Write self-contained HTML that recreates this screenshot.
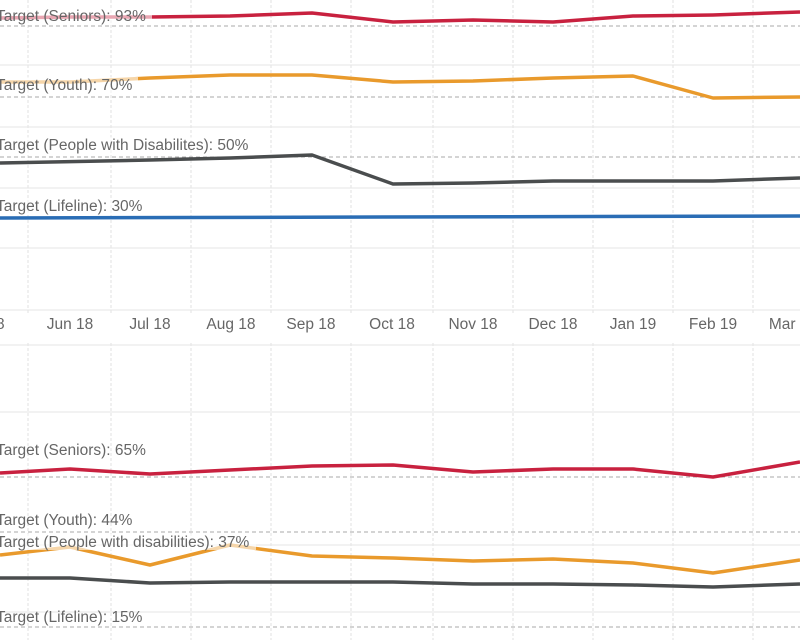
<!DOCTYPE html>
<html><head><meta charset="utf-8"><style>
body{margin:0;width:800px;height:640px;overflow:hidden;background:#fff}
svg{display:block}
text{font-family:"Liberation Sans",sans-serif;font-size:15.5px;fill:#666}
</style></head><body>
<svg width="800" height="640" viewBox="0 0 800 640">
<defs><linearGradient id="g" x1="0" x2="1"><stop offset="0" stop-color="#2a6db5"/><stop offset="1" stop-color="#2a6db5" stop-opacity="0"/></linearGradient></defs>
<g stroke="#e0e0e0" stroke-width="1" stroke-dasharray="3,2">
<line x1="28" y1="0" x2="28" y2="314"/><line x1="111" y1="0" x2="111" y2="314"/><line x1="191" y1="0" x2="191" y2="314"/><line x1="271" y1="0" x2="271" y2="314"/><line x1="351" y1="0" x2="351" y2="314"/><line x1="433" y1="0" x2="433" y2="314"/><line x1="513" y1="0" x2="513" y2="314"/><line x1="593" y1="0" x2="593" y2="314"/><line x1="673" y1="0" x2="673" y2="314"/><line x1="753" y1="0" x2="753" y2="314"/>
<line x1="28" y1="343" x2="28" y2="640"/><line x1="111" y1="343" x2="111" y2="640"/><line x1="191" y1="343" x2="191" y2="640"/><line x1="271" y1="343" x2="271" y2="640"/><line x1="351" y1="343" x2="351" y2="640"/><line x1="433" y1="343" x2="433" y2="640"/><line x1="513" y1="343" x2="513" y2="640"/><line x1="593" y1="343" x2="593" y2="640"/><line x1="673" y1="343" x2="673" y2="640"/><line x1="753" y1="343" x2="753" y2="640"/>
</g>
<g stroke="#e6e6e6" stroke-width="1">
<line x1="0" y1="65" x2="800" y2="65"/><line x1="0" y1="127" x2="800" y2="127"/><line x1="0" y1="188" x2="800" y2="188"/><line x1="0" y1="248" x2="800" y2="248"/><line x1="0" y1="310" x2="800" y2="310"/>
<line x1="0" y1="345" x2="800" y2="345"/><line x1="0" y1="412" x2="800" y2="412"/><line x1="0" y1="545" x2="800" y2="545"/><line x1="0" y1="612" x2="800" y2="612"/>
</g>
<g stroke="#aaa" stroke-width="1" stroke-dasharray="4,3">
<line x1="0" y1="26" x2="800" y2="26"/><line x1="0" y1="97" x2="800" y2="97"/><line x1="0" y1="157" x2="800" y2="157"/>
<line x1="0" y1="477" x2="800" y2="477"/><line x1="0" y1="532" x2="800" y2="532"/><line x1="0" y1="627" x2="800" y2="627"/>
</g>
<g fill="none" stroke-width="3.5" stroke-linejoin="round">
<polyline stroke="#c8213f" points="0,18 70,17 150,17 230,16 312,13 393,22 473,20 553,22 633,16 713,15 800,12"/>
<polyline stroke="#e99a2c" points="0,82 70,82 150,78 230,75 312,75 393,82 473,81 553,78 633,76 713,98 800,97"/>
<polyline stroke="#4a4d4e" points="0,163 150,160 230,158 312,155 393,184 473,183 553,181 633,181 713,181 800,178"/>
<polyline stroke="#2a6db5" points="0,218 800,216"/>
<polyline stroke="#c8213f" points="0,473 70,469 150,474 230,470 312,466 393,465 473,472 553,469 633,469 713,477 800,462"/>
<polyline stroke="#e99a2c" points="0,555 70,547 150,565 230,545 312,556 393,558 473,561 553,559 633,563 713,573 800,560"/>
<polyline stroke="#4a4d4e" points="0,578 70,578 150,583 230,582 312,582 393,582 473,584 553,584 633,585 713,587 800,584"/>
<line stroke="url(#g)" x1="0" y1="638" x2="660" y2="638"/>
</g>
<g fill="#fff" opacity="0.6">
<rect x="0" y="8" width="152" height="16"/><rect x="0" y="77" width="138" height="16"/><rect x="0" y="137" width="256" height="16"/><rect x="0" y="198" width="146" height="16"/>
<rect x="0" y="534" width="256" height="16"/>
</g>
<g>
<text x="-4" y="21">Target (Seniors): 93%</text>
<text x="-4" y="90">Target (Youth): 70%</text>
<text x="-4" y="150">Target (People with Disabilites): 50%</text>
<text x="-4" y="211">Target (Lifeline): 30%</text>
<text x="-4" y="455">Target (Seniors): 65%</text>
<text x="-4" y="525">Target (Youth): 44%</text>
<text x="-4" y="547">Target (People with disabilities): 37%</text>
<text x="-4" y="622">Target (Lifeline): 15%</text>
</g>
<g text-anchor="middle">
<text x="-4" y="329">18</text><text x="70" y="329">Jun 18</text><text x="150" y="329">Jul 18</text><text x="231" y="329">Aug 18</text><text x="311" y="329">Sep 18</text><text x="392" y="329">Oct 18</text><text x="473" y="329">Nov 18</text><text x="553" y="329">Dec 18</text><text x="633" y="329">Jan 19</text><text x="713" y="329">Feb 19</text><text x="793" y="329">Mar 19</text>
</g>
</svg>
</body></html>
